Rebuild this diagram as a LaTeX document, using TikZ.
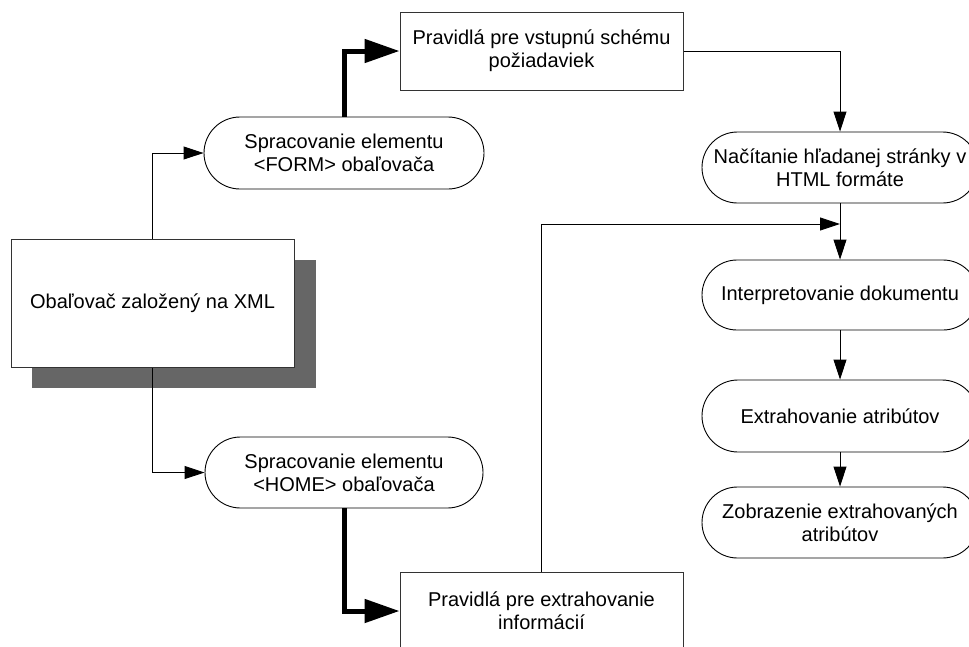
\documentclass[tikz,border=0pt]{standalone}
\usepackage{fontspec}
\setmainfont{Liberation Sans}
\usetikzlibrary{arrows.meta,shapes.misc}

\definecolor{shadowgray}{HTML}{666666}
\definecolor{edgegray}{HTML}{333333}

\begin{document}
\begin{tikzpicture}[x=1pt,y=-1pt,
  every node/.style={font=\fontsize{20}{23}\selectfont, align=center, inner sep=2pt},
  procbox/.style={draw=edgegray, line width=1pt, fill=white, rectangle},
  stadium/.style={draw=black, line width=0.9pt, fill=white, rounded rectangle,
    minimum width=281pt, minimum height=71pt},
  thinflow/.style={draw=black, line width=0.9pt,
    -{Triangle[length=20pt,width=13pt]}},
  thickflow/.style={draw=black, line width=5pt,
    -{Triangle[length=35pt,width=23pt]}}
]
\useasboundingbox (0,0) rectangle (969,646);
\clip (0,0) rectangle (969,646);

% wrapper box with its shadow
\fill[shadowgray] (32,260) rectangle (316,388);
\node[procbox, minimum width=283pt, minimum height=128pt] (main) at (152.5,303)
  {Obaľovač založený na XML};

% processing of the two wrapper elements
\node[stadium, minimum width=284pt, minimum height=72pt] (form) at (344,153)
  {Spracovanie elementu\\<FORM> obaľovača};
\node[stadium, minimum width=282pt] (home) at (344,472.5)
  {Spracovanie elementu\\<HOME> obaľovača};

% rule sets
\node[procbox, minimum width=283pt, minimum height=78pt] (rulesin) at (541.5,51)
  {Pravidlá pre vstupnú schému\\požiadaviek};
\node[procbox, minimum width=283pt, minimum height=78pt] (rulesex) at (541.5,611)
  {Pravidlá pre extrahovanie\\informácií};

% processing chain
\node[stadium, minimum width=280pt] (load) at (840,167.5)
  {Načítanie hľadanej stránky v\\HTML formáte};
\node[stadium, minimum width=280pt, minimum height=70pt] (interp) at (840,295)
  {Interpretovanie dokumentu};
\node[stadium, minimum width=280pt, minimum height=72pt] (extr) at (840,416)
  {Extrahovanie atribútov};
\node[stadium, minimum width=280pt] (show) at (840,522.5)
  {Zobrazenie extrahovaných\\atribútov};

\coordinate (join) at (840,224);

% connectors
\draw[thinflow] (main.north) |- (form.west);
\draw[thinflow] (main.south) |- (home.west);
\draw[thickflow] (form.north) |- (rulesin.west);
\draw[thickflow] (home.south) |- (rulesex.west);
\draw[thinflow] (rulesin.east) -| (load.north);
\draw[thinflow] (load.south) -- (interp.north);
\draw[thinflow] (rulesex.north) |- (join);
\draw[thinflow] (interp.south) -- (extr.north);
\draw[thinflow] (extr.south) -- (show.north);
\end{tikzpicture}
\end{document}
